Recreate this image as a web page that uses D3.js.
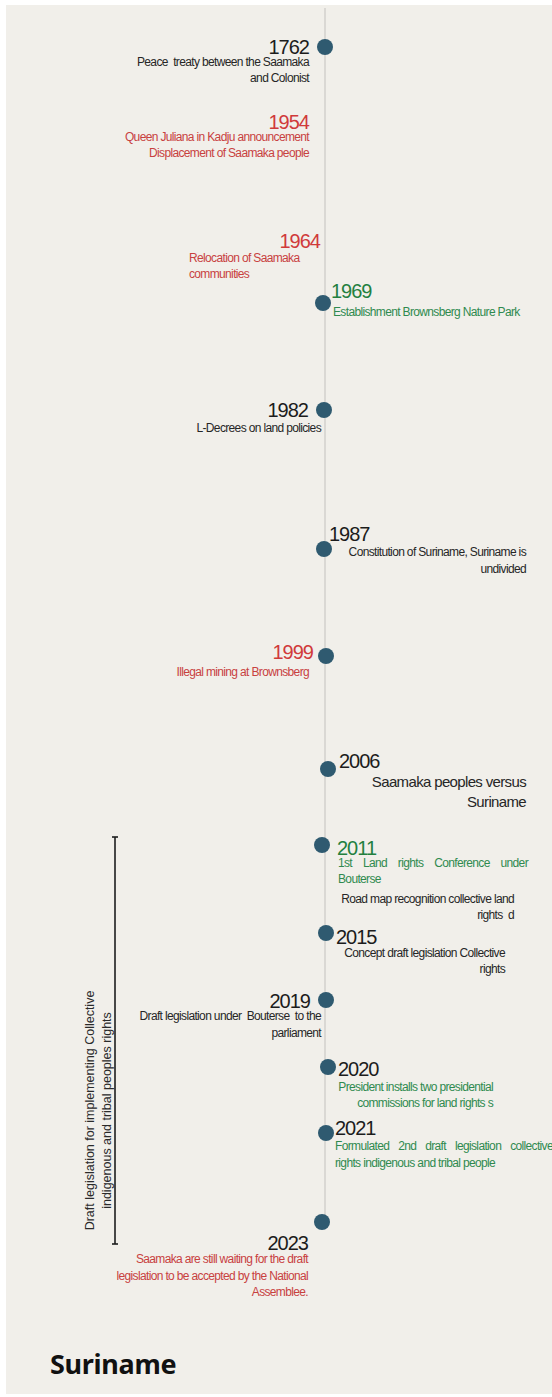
<!DOCTYPE html>
<html>
<head>
<meta charset="utf-8">
<script src="https://cdn.jsdelivr.net/npm/d3@7"></script>
<style>
  html, body { margin: 0; padding: 0; background: #ffffff; }
  svg { display: block; }
</style>
</head>
<body>
<svg id="chart"></svg>
<script>
// ---- data ----
var years = ["1762", "1954", "1964", "1969", "1982", "1987", "1999", "2006", "2011", "2015", "2019", "2020", "2021", "2023"];

var descriptions = [
    ["Peace  treaty between the Saamaka", "and Colonist"],
    ["Queen Juliana in Kadju announcement", "Displacement of Saamaka people"],
    ["Relocation of Saamaka", "communities"],
    ["Establishment Brownsberg Nature Park"],
    ["L-Decrees on land policies"],
    ["Constitution of Suriname, Suriname is", "undivided"],
    ["Illegal mining at Brownsberg"],
    ["Saamaka peoples versus", "Suriname"],
    ["1st Land rights Conference under", "Bouterse"],
    ["Concept draft legislation Collective", "rights"],
    ["Draft legislation under  Bouterse  to the", "parliament"],
    ["President installs two presidential", "commissions for land rights s"],
    ["Formulated 2nd draft legislation collective", "rights indigenous and tribal people"],
    ["Saamaka are still waiting for the draft", "legislation to be accepted by the National", "Assemblee."]
];

// kind of event, drives the colours (year label / description)
var yearTones = ["neutral", "setback", "setback", "progress", "neutral", "neutral", "setback", "neutral", "progress", "neutral", "neutral", "neutral", "neutral", "neutral"];
var descTones = ["neutral", "setback", "setback", "progress", "neutral", "neutral", "setback", "neutral", "progress", "neutral", "neutral", "progress", "progress", "setback"];

// 1954 and 1964 have no marker on the line
var markers = [true, false, false, true, true, true, true, true, true, true, true, true, true, true];

var extraNote = { year: "2011", lines: ["Road map recognition collective land", "rights  d"] };

var bracketYears = ["2011", "2023"];
var bracketLabel = ["Draft legislation for implementing Collective", "indigenous and tribal peoples rights"];

var title = "Suriname";

// ---- layout (hand placed like the original poster) ----
var W = 552, H = 1397;
var lineX = 325;
var slotY = [47, 129, 248, 303, 410, 549, 656, 769, 845, 933, 1000, 1067, 1133, 1222];
var dotShift = [0, 0, 0, -2, -1, -1, 1, 3, -3, 1, 1, 3, 1, -3];

var labelPos = {
    "1762": {yx: 309, yy: 54, ya: "end", dx: 309, dy: 66, lh: 16, da: "end"},
    "1954": {yx: 309, yy: 129, ya: "end", dx: 309, dy: 141, lh: 16, da: "end"},
    "1964": {yx: 320, yy: 248, ya: "end", dx: 189, dy: 262, lh: 16, da: "start"},
    "1969": {yx: 331, yy: 298, ya: "start", dx: 333, dy: 316, lh: 16, da: "start"},
    "1982": {yx: 308, yy: 417, ya: "end", dx: 321, dy: 432, lh: 16, da: "end"},
    "1987": {yx: 329, yy: 541, ya: "start", dx: 526, dy: 556, lh: 17, da: "end"},
    "1999": {yx: 313, yy: 659, ya: "end", dx: 309, dy: 676, lh: 16, da: "end"},
    "2006": {yx: 339, yy: 768, ya: "start", dx: 526, dy: 787, lh: 20, da: "end", size: 15},
    "2011": {yx: 337, yy: 855, ya: "start", dx: 338, dy: 867, lh: 16, da: "start", justify: 190},
    "2015": {yx: 336, yy: 944, ya: "start", dx: 505, dy: 957, lh: 16, da: "end"},
    "2019": {yx: 310, yy: 1008, ya: "end", dx: 321, dy: 1020, lh: 17, da: "end"},
    "2020": {yx: 338, yy: 1076, ya: "start", dx: 493, dy: 1091, lh: 16, da: "end"},
    "2021": {yx: 335, yy: 1135, ya: "start", dx: 335, dy: 1150, lh: 17, da: "start", justify: 218},
    "2023": {yx: 308, yy: 1250, ya: "end", dx: 308, dy: 1263, lh: 16.5, da: "end"}
};
var notePos = {x: 514, y: 903, lh: 16};

var events = years.map(function(y, i) {
    return {year: y, lines: descriptions[i], yTone: yearTones[i], dTone: descTones[i], marker: markers[i]};
});

var yScale = d3.scaleOrdinal().domain(years).range(slotY);
var shiftScale = d3.scaleOrdinal().domain(years).range(dotShift);

var yearColor = d3.scaleOrdinal()
    .domain(["neutral", "setback", "progress"])
    .range(["#1c1c1c", "#d03a3a", "#23803f"]);
var textColor = d3.scaleOrdinal()
    .domain(["neutral", "setback", "progress"])
    .range(["#262626", "#c8413f", "#2f8a4f"]);

var FONT = "Liberation Sans, Arial, sans-serif";
var SPACING = -0.65;

var svg = d3.select("#chart").attr("width", W).attr("height", H);

svg.append("rect")
    .attr("x", 6).attr("y", 5)
    .attr("width", W - 6).attr("height", H - 8)
    .attr("fill", "#f1efea");

// the timeline
svg.append("line")
    .attr("x1", lineX).attr("x2", lineX)
    .attr("y1", 8).attr("y2", yScale(years[years.length - 1]))
    .attr("stroke", "#d2d0cc")
    .attr("stroke-width", 1.5);

// bracket for the draft legislation period
var bTop = yScale(bracketYears[0]) - 8, bBottom = yScale(bracketYears[1]) + 22;
var bx = 115;
var bracket = svg.append("g").attr("stroke", "#1e1e1e").attr("stroke-width", 1.6);
bracket.append("line").attr("x1", bx).attr("x2", bx).attr("y1", bTop).attr("y2", bBottom);
bracket.append("line").attr("x1", bx - 3).attr("x2", bx + 3).attr("y1", bTop).attr("y2", bTop);
bracket.append("line").attr("x1", bx - 3).attr("x2", bx + 3).attr("y1", bBottom).attr("y2", bBottom);

var bMid = (bTop + bBottom) / 2 + 70;
svg.append("text")
    .attr("transform", "translate(" + 94 + "," + bMid + ") rotate(-90)")
    .attr("text-anchor", "middle")
    .attr("font-family", FONT)
    .attr("font-size", 12.5)
    .attr("fill", "#2a2a2a")
    .selectAll("tspan")
    .data(bracketLabel).enter().append("tspan")
    .attr("x", 0)
    .attr("y", function(d, i) { return i * 17; })
    .text(function(d) { return d; });

// markers
svg.selectAll(".dot")
    .data(events.filter(function(d) { return d.marker; }))
    .enter().append("circle")
    .attr("class", "dot")
    .attr("cx", function(d) { return lineX + shiftScale(d.year); })
    .attr("cy", function(d) { return yScale(d.year); })
    .attr("r", 8)
    .attr("fill", "#2f5a70");

// labels
var groups = svg.selectAll(".event")
    .data(events)
    .enter().append("g")
    .attr("class", "event")
    .attr("font-family", FONT);

groups.append("text")
    .attr("class", "year")
    .attr("x", function(d) { return labelPos[d.year].yx; })
    .attr("y", function(d) { return labelPos[d.year].yy; })
    .attr("text-anchor", function(d) { return labelPos[d.year].ya; })
    .attr("font-size", 20)
    .attr("letter-spacing", -1)
    .attr("fill", function(d) { return yearColor(d.yTone); })
    .text(function(d) { return d.year; });

groups.each(function(d) {
    var p = labelPos[d.year];
    var t = d3.select(this).append("text")
        .attr("class", "desc")
        .attr("text-anchor", p.da)
        .attr("font-size", p.size || 12)
        .attr("letter-spacing", SPACING)
        .attr("fill", textColor(d.dTone))
        .style("white-space", "pre");
    t.selectAll("tspan")
        .data(d.lines).enter().append("tspan")
        .attr("x", p.dx)
        .attr("y", function(l, i) { return p.dy + i * p.lh; })
        .text(function(l) { return l; })
        .each(function(l, i) {
            // justified lines: spread the gap over the word spaces
            if (!p.justify || i == d.lines.length - 1) return;
            var natural = this.getComputedTextLength();
            var gaps = l.split(" ").length - 1;
            d3.select(this).style("word-spacing", ((p.justify - natural) / gaps) + "px");
        });
});

// extra black note under 2011
svg.append("text")
    .attr("font-family", FONT)
    .attr("font-size", 12)
    .attr("letter-spacing", SPACING)
    .attr("text-anchor", "end")
    .attr("fill", textColor("neutral"))
    .style("white-space", "pre")
    .selectAll("tspan")
    .data(extraNote.lines).enter().append("tspan")
    .attr("x", notePos.x)
    .attr("y", function(d, i) { return notePos.y + i * notePos.lh; })
    .text(function(d) { return d; });

svg.append("text")
    .attr("x", 50).attr("y", 1374)
    .attr("font-family", "Noto Sans, Open Sans, sans-serif")
    .attr("font-weight", "bold")
    .attr("font-size", 27)
    .attr("letter-spacing", -0.3)
    .attr("fill", "#111")
    .text(title);
</script>
</body>
</html>
